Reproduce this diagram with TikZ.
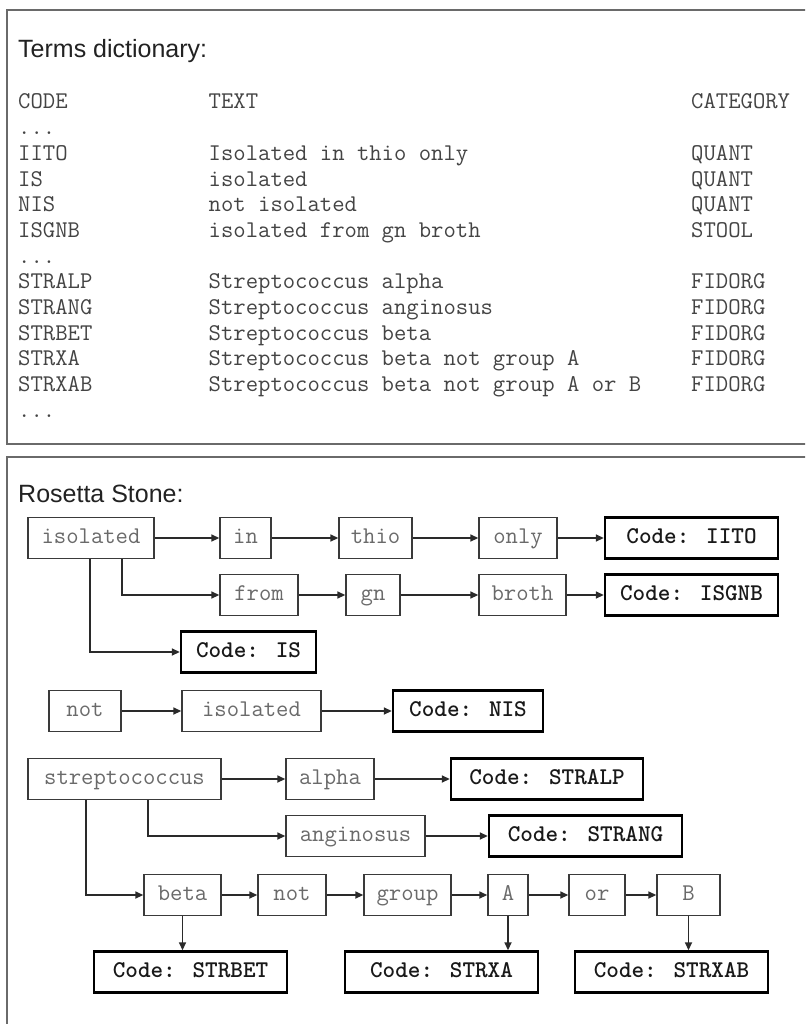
\documentclass[tikz,border=0pt]{standalone}
\usepackage{fontspec}
\setmainfont{Liberation Sans}
\setsansfont{Liberation Sans}
\usetikzlibrary{arrows.meta}
\definecolor{frame}{HTML}{6A6A6A}
\definecolor{tabtext}{HTML}{444444}
\definecolor{wordtext}{HTML}{6A6A6A}
\definecolor{wordline}{HTML}{3A3A3A}
\definecolor{conncol}{HTML}{2A2A2A}
\definecolor{headtext}{HTML}{222222}
\newcommand{\tdots}{.{}.{}.}
\newcommand{\monof}{\ttfamily\fontsize{24}{24}\selectfont}
\tikzset{
  panel/.style={draw=frame, line width=2.2pt},
  heading/.style={anchor=base west, inner sep=0pt, text=headtext, font=\sffamily\fontsize{25}{25}\selectfont},
  tabcell/.style={anchor=base west, inner sep=0pt, text=tabtext, font=\monof},
  wbox/.style={draw=wordline, line width=1.4pt, fill=white, text=wordtext, minimum height=41pt, inner sep=0pt, text height=13pt, text depth=3pt, font=\monof},
  cbox/.style={draw=black, line width=2.4pt, fill=white, text=black!90, minimum height=41pt, inner sep=0pt, text height=13pt, text depth=3pt, font=\monof\bfseries},
  conn/.style={draw=conncol, line width=1.6pt, -{Triangle[length=8pt,width=7pt]}}
}
\begin{document}
\begin{tikzpicture}[x=1pt,y=-1pt]
\useasboundingbox (0,0) rectangle (805,1024);
\clip (0,0) rectangle (805,1024);
\fill[white] (0,0) rectangle (805,1024);
% panels
\draw[panel] (7,10) rectangle (830,444);
\draw[panel] (7,457) rectangle (830,1050);
% top panel
\node[heading] (h1) at (18,58) {Terms dictionary:};
\foreach \i/\c/\t/\k in {0/CODE/TEXT/CATEGORY,1/\tdots/{}/{},2/IITO/Isolated in thio only/QUANT,3/IS/isolated/QUANT,4/NIS/not isolated/QUANT,5/ISGNB/isolated from gn broth/STOOL,6/\tdots/{}/{},7/STRALP/Streptococcus alpha/FIDORG,8/STRANG/Streptococcus anginosus/FIDORG,9/STRBET/Streptococcus beta/FIDORG,10/STRXA/Streptococcus beta not group A/FIDORG,11/STRXAB/Streptococcus beta not group A or B/FIDORG,12/\tdots/{}/{}}{
  \node[tabcell] (c\i) at (18,{109+25.67*\i}) {\c};
  \node[tabcell] (t\i) at (208.5,{109+25.67*\i}) {\t};
  \node[tabcell] (k\i) at (691,{109+25.67*\i}) {\k};
}
% bottom panel
\node[heading] (h2) at (18,502) {Rosetta Stone:};
% row isolated
\node[wbox, minimum width=126pt] (iso) at (91,538) {isolated};
\node[wbox, minimum width=51pt] (in) at (245.5,538) {in};
\node[wbox, minimum width=73pt] (thio) at (375.5,538) {thio};
\node[wbox, minimum width=78pt] (only) at (518,538) {only};
\node[cbox, minimum width=173pt] (cIITO) at (691.5,538) {Code: IITO};
% row from
\node[wbox, minimum width=78pt] (from) at (259,595) {from};
\node[wbox, minimum width=54pt] (gn) at (373,595) {gn};
\node[wbox, minimum width=87pt] (broth) at (522.5,595) {broth};
\node[cbox, minimum width=173pt] (cISGNB) at (691.5,595) {Code: ISGNB};
% row IS
\node[cbox, minimum width=135pt] (cIS) at (248.5,652) {Code: IS};
% row not
\node[wbox, minimum width=72pt] (not) at (85,711) {not};
\node[wbox, minimum width=139pt] (iso2) at (251.5,711) {isolated};
\node[cbox, minimum width=150pt] (cNIS) at (468,711) {Code: NIS};
% row strep
\node[wbox, minimum width=193pt] (strep) at (124.5,779) {streptococcus};
\node[wbox, minimum width=88pt] (alpha) at (330,779) {alpha};
\node[cbox, minimum width=192pt] (cSTRALP) at (547,779) {Code: STRALP};
% row anginosus
\node[wbox, minimum width=139pt] (angin) at (355.5,836) {anginosus};
\node[cbox, minimum width=193pt] (cSTRANG) at (585.5,836) {Code: STRANG};
% row beta
\node[wbox, minimum width=77pt] (beta) at (182.5,895) {beta};
\node[wbox, minimum width=68pt] (not2) at (292,895) {not};
\node[wbox, minimum width=87pt] (group) at (407.5,895) {group};
\node[wbox, minimum width=40pt] (A) at (508,895) {A};
\node[wbox, minimum width=56pt] (or) at (597,895) {or};
\node[wbox, minimum width=63pt] (B) at (688.5,895) {B};
% codes row
\node[cbox, minimum width=193pt] (cSTRBET) at (190.5,972) {Code: STRBET};
\node[cbox, minimum width=193pt] (cSTRXA) at (441.5,972) {Code: STRXA};
\node[cbox, minimum width=193pt] (cSTRXAB) at (671.5,972) {Code: STRXAB};
% connectors
\draw[conn] (iso) -- (in);
\draw[conn] (in) -- (thio);
\draw[conn] (thio) -- (only);
\draw[conn] (only) -- (cIITO);
\draw[conn] (iso.south) ++(31,0) |- (from.west);
\draw[conn] (from) -- (gn);
\draw[conn] (gn) -- (broth);
\draw[conn] (broth) -- (cISGNB);
\draw[conn] (iso.south) ++(-1,0) |- (cIS.west);
\draw[conn] (not) -- (iso2);
\draw[conn] (iso2) -- (cNIS);
\draw[conn] (strep) -- (alpha);
\draw[conn] (alpha) -- (cSTRALP);
\draw[conn] (strep.south) ++(23.5,0) |- (angin.west);
\draw[conn] (angin) -- (cSTRANG);
\draw[conn] (strep.south) ++(-38.5,0) |- (beta.west);
\draw[conn] (beta) -- (not2);
\draw[conn] (not2) -- (group);
\draw[conn] (group) -- (A);
\draw[conn] (A) -- (or);
\draw[conn] (or) -- (B);
\draw[conn] (beta.south) -- (beta.south |- cSTRBET.north);
\draw[conn] (A.south) -- (A.south |- cSTRXA.north);
\draw[conn] (B.south) -- (B.south |- cSTRXAB.north);
\end{tikzpicture}
\end{document}
